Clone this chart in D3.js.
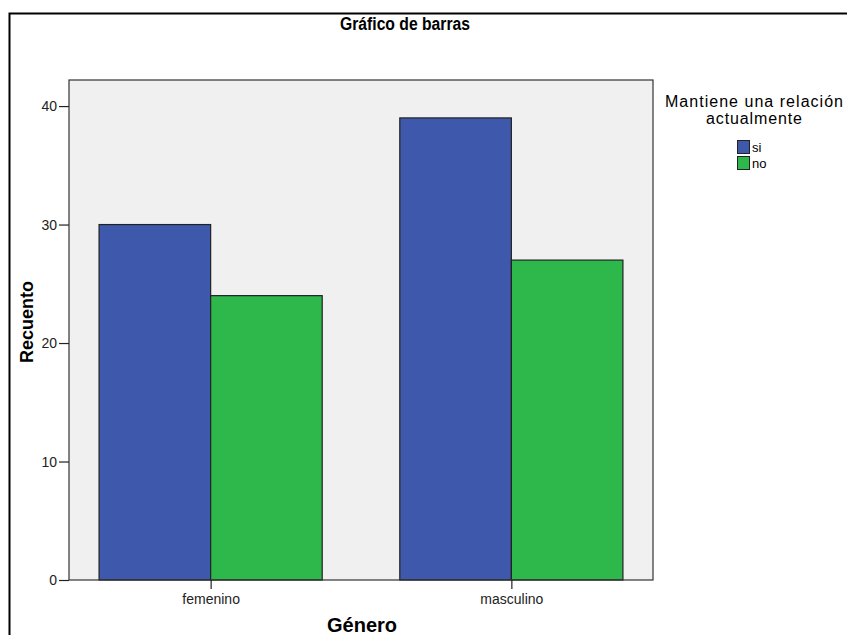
<!DOCTYPE html>
<html><head><meta charset="utf-8">
<script src="https://cdn.jsdelivr.net/npm/d3@7"></script>
<style>body{margin:0;background:#fff}svg{display:block}text{font-family:"Liberation Sans",Arial,sans-serif}</style>
</head><body><svg id="c" width="847" height="635"></svg>
<script>
const categories = ["femenino", "masculino"];
const seriesNames = ["si", "no"];
const siValues = [30, 39];
const noValues = [24, 27];
const yTicks = [0, 10, 20, 30, 40];
const colors = ["#3e58ac", "#2eb84b"];

const svg = d3.select("#c");
const pLeft = 69, pRight = 653, pTop = 80, pBottom = 580;

// outer frame
svg.append("rect").attr("x", 9.5).attr("y", 13.5).attr("width", 900).attr("height", 700)
  .attr("fill", "none").attr("stroke", "#000").attr("stroke-width", 2);

// plot background
svg.append("rect").attr("x", pLeft).attr("y", pTop).attr("width", pRight - pLeft).attr("height", pBottom - pTop)
  .attr("fill", "#f0f0f0");

const x0 = d3.scaleBand().domain(categories).range([pLeft, pRight]).paddingInner(0.258).paddingOuter(0.1);
const x1 = d3.scaleBand().domain(seriesNames).range([0, x0.bandwidth()]);
const y = d3.scaleLinear().domain([0, 42.2]).range([pBottom, pTop]);

const data = categories.map((c, i) => ({cat: c, vals: [siValues[i], noValues[i]]}));
const g = svg.append("g");
data.forEach(d => {
  d.vals.forEach((v, j) => {
    g.append("rect")
      .attr("x", x0(d.cat) + x1(seriesNames[j]))
      .attr("y", y(v))
      .attr("width", x1.bandwidth())
      .attr("height", y(0) - y(v))
      .attr("fill", colors[j])
      .attr("stroke", "#222").attr("stroke-width", 1.2);
  });
});

// plot border
svg.append("rect").attr("x", pLeft).attr("y", pTop).attr("width", pRight - pLeft).attr("height", pBottom - pTop)
  .attr("fill", "none").attr("stroke", "#333").attr("stroke-width", 1.2);

// y axis
const yAxis = d3.axisLeft(y).tickValues(yTicks).tickSize(10).tickPadding(2);
const ya = svg.append("g").attr("transform", `translate(${pLeft},0)`).call(yAxis);
ya.select(".domain").remove();
ya.selectAll("line").attr("stroke", "#222").attr("stroke-width", 1.2);
ya.selectAll("text").attr("font-size", 14).attr("fill", "#222").style("font-family", '"Liberation Sans",Arial,sans-serif');

// x axis
const xAxis = d3.axisBottom(d3.scalePoint().domain(categories).range([x0(categories[0]) + x0.bandwidth()/2, x0(categories[1]) + x0.bandwidth()/2]))
  .tickSize(9).tickPadding(5);
const xa = svg.append("g").attr("transform", `translate(0,${pBottom})`).call(xAxis);
xa.select(".domain").remove();
xa.selectAll("line").attr("stroke", "#222").attr("stroke-width", 1.2);
xa.selectAll("text").attr("font-size", 14).attr("fill", "#222").style("font-family", '"Liberation Sans",Arial,sans-serif');

// title
svg.append("text").attr("x", 405).attr("y", 30).attr("text-anchor", "middle")
  .attr("font-size", 18).attr("font-weight", "bold")
  .attr("textLength", 130).attr("lengthAdjust", "spacingAndGlyphs").text("Gráfico de barras");

// axis titles
svg.append("text").attr("x", 362).attr("y", 632).attr("text-anchor", "middle")
  .attr("font-size", 20).attr("font-weight", "bold").text("Género");
svg.append("text").attr("transform", "translate(33,322) rotate(-90)").attr("text-anchor", "middle")
  .attr("font-size", 18).attr("font-weight", "bold").text("Recuento");

// legend
svg.append("text").attr("x", 754).attr("y", 107).attr("text-anchor", "middle").attr("font-size", 16)
  .attr("textLength", 178).text("Mantiene una relación");
svg.append("text").attr("x", 754).attr("y", 124).attr("text-anchor", "middle").attr("font-size", 16)
  .attr("textLength", 96).text("actualmente");
seriesNames.forEach((s, j) => {
  svg.append("rect").attr("x", 737.5).attr("y", 140.5 + j * 16).attr("width", 12).attr("height", 13)
    .attr("fill", colors[j]).attr("stroke", "#222").attr("stroke-width", 1);
  svg.append("text").attr("x", 752).attr("y", 152 + j * 16).attr("font-size", 13).text(s);
});
</script></body></html>
